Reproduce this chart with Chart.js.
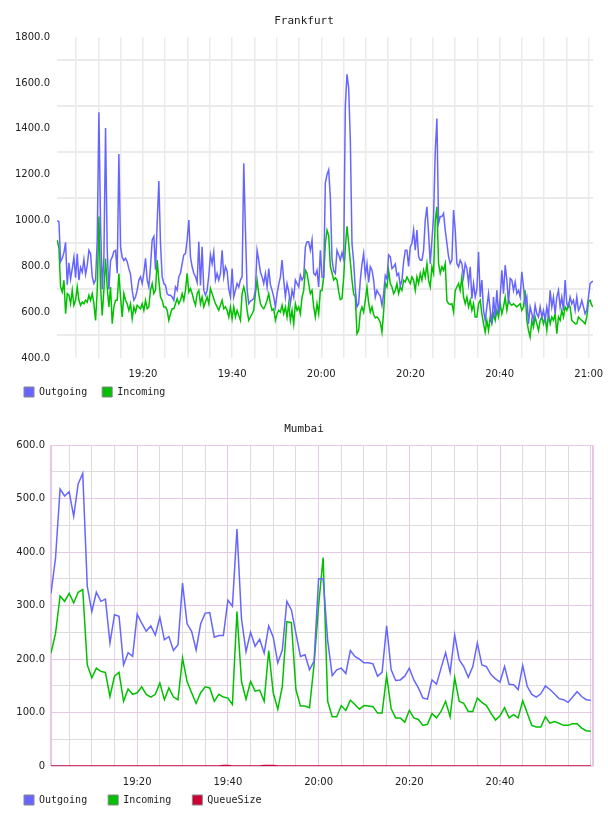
<!DOCTYPE html>
<html>
<head>
<meta charset="utf-8">
<script src="https://cdn.jsdelivr.net/npm/chart.js@4.4.1/dist/chart.umd.min.js"></script>
<style>
  html, body { margin: 0; padding: 0; background: #fff; }
  .box { position: absolute; left: 0; width: 608px; height: 408px; }
  #fraBox { top: 0; }
  #mumBox { top: 408px; }
</style>
</head>
<body>
<div class="box" id="fraBox"><canvas id="fraChart"></canvas></div>
<div class="box" id="mumBox"><canvas id="mumChart"></canvas></div>
<script>
// Frankfurt: a sample every ~22 s, x in minutes after 19:00
const fraStart = 0.78;
const fraStep = 0.3735;
const fraOut = [
  999,995,820,835,860,905,720,815,745,790,
  840,750,855,740,795,775,830,765,805,870,
  855,755,725,740,915,1472,985,700,840,1404,
  870,700,825,840,865,870,770,1290,885,840,
  825,835,820,790,765,695,652,666,696,740,
  755,725,770,835,740,710,800,915,930,785,
  990,1172,900,755,725,718,680,674,674,666,
  652,710,696,755,770,812,850,856,915,1002,
  840,798,770,755,
  730,907,717,885,695,674,695,760,850,812,
  863,740,769,740,769,870,754,798,780,700,
  666,790,666,695,725,710,740,754,1250,960,
  700,637,648,652,659,700,870,827,775,754,
  725,769,710,790,720,695,666,623,681,720,
  754,827,740,666,725,690,637,695,666,740,
  725,710,761,740,754,885,907,907,870,915,
  769,761,783,710,870,754,754,1163,1200,
  1221,1100,830,780,769,870,850,827,860,830,
  1500,1638,1580,1350,900,820,700,623,637,740,
  810,856,760,812,730,798,783,740,666,695,
  681,670,630,680,760,745,850,842,790,798,
  810,760,769,715,740,820,870,870,800,885,
  900,958,870,958,842,827,827,870,1002,1060,
  944,812,915,1017,1300,1445,988,1017,1017,1031,
  958,900,842,812,827,1046,958,812,798,827,
  812,754,812,
  790,725,798,659,725,666,700,863,666,740,
  608,564,623,681,608,549,666,579,695,593,
  666,783,681,805,740,637,747,740,695,732,
  681,695,666,776,710,637,666,549,623,593,
  564,630,593,579,623,579,608,564,623,579,
  695,623,666,593,666,695,623,666,608,740,
  637,623,666,637,652,608,666,608,623,652,
  623,593,608,666,725,732,735
];
const fraIn = [
  915,878,710,688,739,593,681,674,637,696,
  630,652,710,652,630,644,637,652,644,674,
  652,681,637,564,696,1017,710,586,696,834,
  710,623,710,550,623,652,652,769,666,579,
  681,652,637,608,637,571,623,601,630,623,
  615,637,608,652,615,623,696,725,681,696,
  827,739,666,652,623,623,608,564,593,615,
  615,637,659,637,652,681,652,696,769,688,
  703,681,652,630,
  681,695,637,666,623,644,666,637,703,681,
  659,637,623,608,630,652,615,623,608,579,
  623,571,623,579,608,586,564,681,710,681,
  608,564,579,593,608,681,739,681,637,623,
  615,630,652,681,637,608,615,564,593,608,
  601,630,593,623,579,637,564,608,549,637,
  608,623,593,666,695,783,769,725,681,695,
  623,579,637,593,695,695,754,900,958,
  935,800,772,740,750,740,690,655,659,750,
  880,975,900,820,740,680,666,506,520,600,
  623,600,652,710,640,600,623,590,575,579,
  571,555,513,600,725,710,783,725,710,681,
  695,725,681,710,695,739,732,754,739,725,
  754,739,695,754,725,769,739,783,754,812,
  739,710,798,769,1000,1060,812,769,798,783,
  812,650,637,634,637,601,695,710,725,695,
  754,666,637,
  666,623,652,608,637,579,579,637,652,593,
  549,513,564,520,579,549,593,564,608,579,
  637,593,623,666,608,652,637,630,637,630,
  623,630,637,608,623,695,564,520,491,564,
  535,579,549,520,564,579,549,579,520,593,
  549,579,564,593,506,579,564,608,579,623,
  608,637,623,564,557,549,549,579,571,564,
  557,549,579,644,652,630,623
];
const fraTimeLabels = ['19:20', '19:40', '20:00', '20:20', '20:40', '21:00'];

// Mumbai: one sample a minute from 19:01
const mumStart = 1;
const mumStep = 1;
const mumOut = [
  323,389,518,505,513,467,528,547,336,289,
  325,308,312,230,283,280,189,212,205,284,
  267,252,262,245,278,236,242,216,227,342,
  266,252,217,266,286,287,241,244,244,310,
  299,443,275,214,250,224,237,211,262,241,
  193,217,308,292,248,205,208,180,196,350,
  350,235,169,180,183,173,216,205,200,193,
  193,191,168,175,262,180,160,161,168,183,
  161,146,127,125,161,153,183,212,175,245,
  199,186,166,186,230,189,186,171,163,157,
  186,153,152,143,188,149,134,129,135,150,
  143,135,126,124,119,129,139,130,124,123
];
const mumIn = [
  211,248,318,308,323,305,325,330,189,165,
  183,177,175,130,168,175,121,144,134,137,
  148,134,129,134,155,124,146,129,124,202,
  158,137,117,137,148,146,121,134,129,127,
  115,289,158,125,158,140,142,121,216,137,
  106,149,270,268,143,112,112,109,190,300,
  390,121,92,92,113,104,123,115,106,113,
  112,111,99,99,169,107,90,90,82,104,
  90,87,76,78,98,90,102,121,92,165,
  121,117,102,102,127,119,113,99,86,94,
  109,90,96,90,122,99,76,73,73,92,
  80,83,80,76,76,79,79,71,66,65
];
const mumQueue = [
  0,0,0,0,0,0,0,0,0,0,
  0,0,0,0,0,0,0,0,0,0,
  0,0,0,0,0,0,0,0,0,0,
  0,0,0,0,0,0,0,0,1,1,
  0,0,0,0,0,0,0,1,1,1,
  0,0,0,0,0,0,0,0,0,0,
  0,0,0,0,0,0,0,0,0,0,
  0,0,0,0,0,0,0,0,0,0,
  0,0,0,0,0,0,0,0,0,0,
  0,0,0,0,0,0,0,0,0,0,
  0,0,0,0,0,0,0,0,0,0,
  0,0,0,0,0,0,0,0,0,0
];
const mumTimeLabels = ['19:20', '19:40', '20:00', '20:20', '20:40'];

const blue = '#6666ff';
const green = '#00c000';
const red = '#cc0033';

Chart.defaults.font.family = 'DejaVu Sans';
Chart.defaults.font.size = 10;
Chart.defaults.color = '#222';
Chart.defaults.animation = false;

function toPoints(start, step, values) {
  return values.map((v, i) => ({ x: start + i * step, y: v }));
}

function hhmm(min) {
  const h = 19 + Math.floor(min / 60);
  const m = Math.round(min % 60);
  return h + ':' + String(m).padStart(2, '0');
}

function line(label, color, data) {
  return { label: label, data: data, borderColor: color, backgroundColor: color,
           borderWidth: 1.5, pointRadius: 0, tension: 0 };
}

function everyFive(scale) {
  const ticks = [];
  for (let v = Math.ceil(scale.min / 5) * 5; v <= scale.max; v += 5) ticks.push({ value: v });
  scale.ticks = ticks;
}

function noSidePadding(scale) {
  scale.paddingLeft = 0;
  scale.paddingRight = 0;
  scale.paddingTop = 0;
  scale.paddingBottom = 0;
}

// x axis box just tall enough for the time labels
function shortXAxis(scale) {
  noSidePadding(scale);
  scale.height = 20;
}

function legendOpts(gap, dy) {
  return {
    position: 'bottom', align: 'start', maxHeight: 30,
    labels: {
      boxWidth: 10, boxHeight: 10, padding: gap,
      font: { family: 'DejaVu Sans Mono', size: 10 },
      generateLabels: chart => Chart.defaults.plugins.legend.labels.generateLabels(chart)
        .map(l => Object.assign(l, { strokeStyle: '#888', lineWidth: 1 }))
    },
    dy: dy
  };
}

function titleOpts(text, dx) {
  return { display: true, text: text, color: '#222',
           font: { family: 'DejaVu Sans Mono', size: 11, weight: 'normal' },
           padding: { top: 15, bottom: 9 }, dx: dx };
}

// the legend padding also sets the gap between items, so lift the row back up;
// and re-centre the title over the whole page width
const nudge = {
  id: 'nudge',
  afterLayout(chart) {
    const lg = chart.legend;
    const dy = chart.options.plugins.legend.dy || 0;
    lg.top += dy;
    lg.height -= dy;
    const tb = chart.titleBlock;
    const dx = chart.options.plugins.title.dx || 0;
    tb.left += dx;
    tb.right += dx;
  }
};

// pinkish frame on left and right of the Mumbai plot
const frame = {
  id: 'frame',
  beforeDatasetsDraw(chart) {
    const { ctx, chartArea: a } = chart;
    ctx.save();
    ctx.strokeStyle = '#e4c8e4';
    ctx.lineWidth = 2;
    ctx.beginPath();
    ctx.moveTo(a.left, a.bottom); ctx.lineTo(a.left, a.top);
    ctx.moveTo(a.right, a.top); ctx.lineTo(a.right, a.bottom);
    ctx.stroke();
    ctx.restore();
  }
};

new Chart(document.getElementById('fraChart'), {
  type: 'line',
  data: {
    datasets: [
      line('Outgoing', blue, toPoints(fraStart, fraStep, fraOut)),
      line('Incoming', green, toPoints(fraStart, fraStep, fraIn))
    ]
  },
  options: {
    responsive: true,
    maintainAspectRatio: false,
    layout: { padding: { left: 9, right: 15, top: 0, bottom: 0 } },
    plugins: {
      title: titleOpts('Frankfurt', 3),
      legend: legendOpts(15, -6),
      tooltip: { enabled: false }
    },
    scales: {
      x: {
        type: 'linear', min: 0.72, max: 120.95,
        afterBuildTicks: everyFive,
        afterFit: shortXAxis,
        border: { display: false },
        grid: { color: '#ebebeb', lineWidth: 1.5, drawTicks: false },
        ticks: {
          autoSkip: false, maxRotation: 0, minRotation: 0, padding: 10,
          callback: v => fraTimeLabels.includes(hhmm(v)) && v % 20 === 0 ? hhmm(v) : ''
        }
      },
      y: {
        min: 400, max: 1800,
        afterFit: s => { s.width = 48; noSidePadding(s); },
        border: { display: false },
        grid: { color: c => c.tick.value % 200 === 100 ? '#ebebeb' : 'rgba(0,0,0,0)', lineWidth: 2, drawTicks: false },
        ticks: {
          stepSize: 100, autoSkip: false, padding: 7,
          callback: v => v % 200 === 0 ? v.toFixed(1) : ''
        }
      }
    }
  },
  plugins: [nudge]
});

new Chart(document.getElementById('mumChart'), {
  type: 'line',
  data: {
    datasets: [
      line('Outgoing', blue, toPoints(mumStart, mumStep, mumOut)),
      line('Incoming', green, toPoints(mumStart, mumStep, mumIn)),
      line('QueueSize', red, toPoints(mumStart, mumStep, mumQueue))
    ]
  },
  options: {
    responsive: true,
    maintainAspectRatio: false,
    layout: { padding: { left: 3, right: 15, top: 0, bottom: 0 } },
    plugins: {
      title: titleOpts('Mumbai', 6),
      legend: legendOpts(21, -12),
      tooltip: { enabled: false }
    },
    scales: {
      x: {
        type: 'linear', min: 1, max: 120.5,
        afterBuildTicks: everyFive,
        afterFit: shortXAxis,
        border: { display: false },
        grid: { color: c => c.tick.value % 20 === 0 ? '#e4c8e4' : '#dcdcdc', lineWidth: 1, drawTicks: false },
        ticks: {
          autoSkip: false, maxRotation: 0, minRotation: 0, padding: 10,
          callback: v => mumTimeLabels.includes(hhmm(v)) && v % 20 === 0 ? hhmm(v) : ''
        }
      },
      y: {
        min: 0, max: 600,
        afterFit: s => { s.width = 48; noSidePadding(s); },
        border: { display: false },
        grid: { color: c => c.tick.value % 100 === 0 ? '#e4c8e4' : '#dcdcdc', lineWidth: 1, drawTicks: false },
        ticks: {
          stepSize: 50, autoSkip: false, padding: 6,
          callback: v => v === 0 ? '0' : (v % 100 === 0 ? v.toFixed(1) : '')
        }
      }
    }
  },
  plugins: [frame, nudge]
});
</script>
</body>
</html>
